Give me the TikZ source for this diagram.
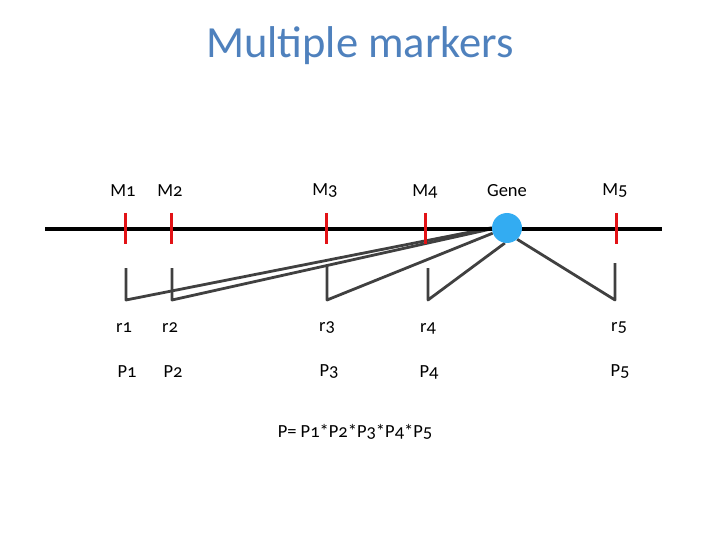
\documentclass[tikz,border=0pt]{standalone}
\usepackage{fontspec}
\setmainfont{Carlito}[Numbers=OldStyle]
\usetikzlibrary{positioning,backgrounds}
\definecolor{titleblue}{RGB}{79,129,189}
\definecolor{markred}{RGB}{226,18,22}
\definecolor{genecyan}{RGB}{51,172,242}
\definecolor{linkgray}{RGB}{64,64,64}

\begin{document}
\begin{tikzpicture}[x=1bp, y=-1bp,
    lbl/.style={font=\fontsize{18.5bp}{21bp}\selectfont, inner sep=0pt},
    tick/.style={draw=markred, line width=3bp},
    link/.style={draw=linkgray, line width=2.8bp, line join=round}]
\useasboundingbox (0,0) rectangle (720,540);

\node[font=\fontsize{44.5bp}{50bp}\selectfont, text=titleblue] (title) at (360,46) {Multiple markers};

% chromosome and markers
\draw[line width=4bp] (45,229) -- (662,229);
\foreach \x in {125,171,326,425,616}
    \draw[tick] (\x,213) -- (\x,244);
\node[circle, fill=genecyan, minimum size=30bp, inner sep=0pt] (gene) at (507,228) {};

\node[lbl] (m1) at (123,191) {M1};
\node[lbl] (m2) at (170,191) {M2};
\node[lbl] (m3) at (325,191) {M3};
\node[lbl] (m4) at (425,191) {M4};
\node[lbl] (gl) at (507,191) {Gene};
\node[lbl] (m5) at (615,191) {M5};

% distances to the gene
\begin{scope}[on background layer]
\foreach \n/\x/\t/\a in {1/126/268/179, 2/172/268/183, 3/327/266/200, 4/428/268/262, 5/615/263/312} {
    \coordinate (t\n) at (\x,\t);
    \coordinate (b\n) at (\x,300);
    \draw[link] (t\n) -- (b\n) -- (gene.\a);
}
\end{scope}

\node[lbl] (r1) at (124,328) {r1};
\node[lbl] (r2) at (170,328) {r2};
\node[lbl] (r3) at (327,328) {r3};
\node[lbl] (r4) at (428,328) {r4};
\node[lbl] (r5) at (619,328) {r5};

\node[lbl] (p1) at (127,372) {P1};
\node[lbl] (p2) at (173,372) {P2};
\node[lbl] (p3) at (329,372) {P3};
\node[lbl] (p4) at (429,372) {P4};
\node[lbl] (p5) at (620,372) {P5};

\node[lbl] (prod) at (355,432) {P= P1*P2*P3*P4*P5};
\end{tikzpicture}
\end{document}
